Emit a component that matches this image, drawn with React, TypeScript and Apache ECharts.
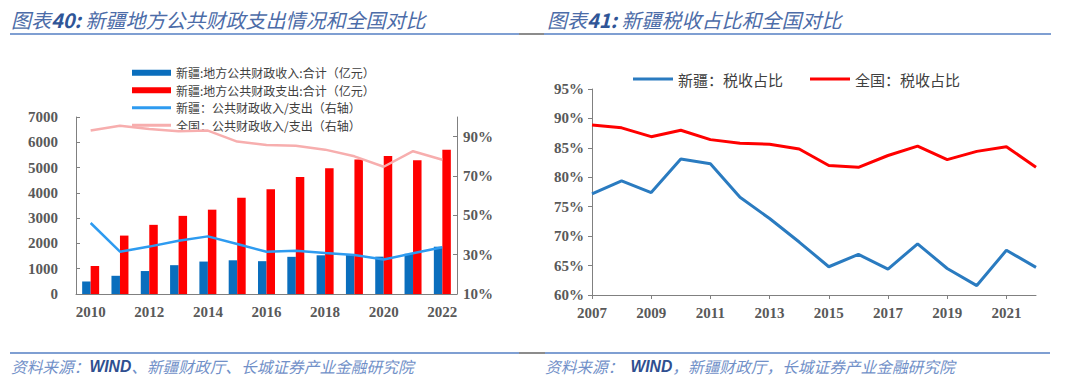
import React, { useEffect, useRef } from 'react';
import * as echarts from 'echarts';

// ---- Chart 40: 新疆地方公共财政支出情况和全国对比 ----
const yearsA = ['2010', '2011', '2012', '2013', '2014', '2015', '2016', '2017', '2018', '2019', '2020', '2021', '2022'];
const xjRevenue = [495, 720, 908, 1140, 1283, 1333, 1298, 1470, 1531, 1577, 1477, 1590, 1870];
const xjExpenditure = [1108, 2310, 2735, 3090, 3335, 3805, 4145, 4630, 4975, 5320, 5455, 5285, 5700];
const xjRatio = [46.1, 31.5, 34.1, 37.1, 39.3, 35.4, 31.5, 32.0, 30.8, 29.8, 27.5, 30.7, 33.8];
const cnRatio = [93.1, 95.6, 93.9, 92.7, 93.1, 87.5, 85.8, 85.4, 83.4, 80.0, 74.7, 82.6, 78.3];

// ---- Chart 41: 新疆税收占比和全国对比 ----
const yearsB = ['2007', '2008', '2009', '2010', '2011', '2012', '2013', '2014', '2015', '2016', '2017', '2018', '2019', '2020', '2021', '2022'];
const xjTaxShare = [77.2, 79.4, 77.4, 83.1, 82.3, 76.6, 73.0, 69.0, 64.8, 66.9, 64.4, 68.7, 64.5, 61.6, 67.6, 64.7];
const cnTaxShare = [88.9, 88.4, 86.9, 88.0, 86.4, 85.8, 85.6, 84.8, 82.0, 81.7, 83.7, 85.3, 83.0, 84.4, 85.2, 81.7];

const L1 = '新疆:地方公共财政收入:合计（亿元）';
const L2 = '新疆:地方公共财政支出:合计（亿元）';
const L3 = '新疆：公共财政收入/支出（右轴）';
const L4 = '全国：公共财政收入/支出（右轴）';
const R1 = '新疆：税收占比';
const R2 = '全国：税收占比';

const CJK = '"Noto Sans CJK SC", sans-serif';
const SERIF = '"Liberation Serif", "Times New Roman", serif';
const LINE_ICON = 'path://M0,0H40V3H0Z';

const axisLabelBase = {
  fontFamily: SERIF,
  fontSize: 15,
  fontWeight: 'bold' as const,
  color: '#595959',
};

export default function App() {
  const ref = useRef<HTMLDivElement>(null);
  useEffect(() => {
    if (!ref.current) return;
    const chart = echarts.init(ref.current, undefined, { renderer: 'svg' });
    const lineBlue = '#7F9FD2';
    const lineGray = '#8C8C8C';
    const titleRich = {
      a: { fontFamily: CJK, fontSize: 20, fontStyle: 'italic', fill: '#4C6CA8' },
      b: { fontFamily: CJK, fontSize: 20, fontStyle: 'italic', fontWeight: 'bold', fill: '#2F5597' },
    };
    const footRich = {
      a: { fontFamily: CJK, fontSize: 15.7, fontStyle: 'italic', fill: '#7190C8' },
      b: { fontFamily: '"Liberation Sans", Arial, sans-serif', fontSize: 15.7, fontStyle: 'italic', fontWeight: 'bold', fill: '#2F4F90' },
    };
    const option: any = {
      animation: false,
      backgroundColor: '#ffffff',
      grid: [
        { left: 76, top: 117, width: 381, height: 177 },
        { left: 592, top: 89, width: 444, height: 206 },
      ],
      legend: [
        {
          data: [
            { name: L1, icon: 'rect' },
            { name: L2, icon: 'rect' },
            { name: L3, icon: LINE_ICON },
            { name: L4, icon: LINE_ICON },
          ],
          orient: 'vertical',
          left: 132,
          top: 64,
          itemWidth: 39,
          itemHeight: 6,
          itemGap: 0,
          padding: 0,
          textStyle: { fontFamily: CJK, fontSize: 12, lineHeight: 17.5, color: '#404040' },
        },
        {
          data: [
            { name: R1, icon: LINE_ICON },
            { name: R2, icon: LINE_ICON },
          ],
          left: 633,
          top: 71,
          itemWidth: 40,
          itemHeight: 6,
          itemGap: 27,
          padding: 0,
          textStyle: { fontFamily: CJK, fontSize: 15, lineHeight: 16, color: '#404040' },
        },
      ],
      xAxis: [
        {
          gridIndex: 0,
          type: 'category',
          data: yearsA,
          boundaryGap: true,
          axisLine: { lineStyle: { color: '#808080', width: 1 } },
          axisTick: { interval: 1, length: 4, lineStyle: { color: '#808080' } },
          axisLabel: { ...axisLabelBase, interval: 1, margin: 10 },
        },
        {
          gridIndex: 1,
          type: 'category',
          data: yearsB,
          boundaryGap: false,
          axisLine: { lineStyle: { color: '#808080', width: 1 } },
          axisTick: { interval: 1, length: 4, lineStyle: { color: '#808080' } },
          axisLabel: { ...axisLabelBase, interval: 1, margin: 10 },
        },
      ],
      yAxis: [
        {
          gridIndex: 0,
          type: 'value',
          min: 0,
          max: 7000,
          interval: 1000,
          splitLine: { show: false },
          axisLine: { show: true, lineStyle: { color: '#808080' } },
          axisTick: { show: true, inside: true, length: 4, lineStyle: { color: '#808080' } },
          axisLabel: { ...axisLabelBase, margin: 18, formatter: (v: number) => String(v) },
        },
        {
          gridIndex: 0,
          type: 'value',
          position: 'right',
          min: 10,
          max: 100,
          interval: 20,
          splitLine: { show: false },
          axisLine: { show: true, lineStyle: { color: '#808080' } },
          axisTick: { show: true, inside: true, length: 4, lineStyle: { color: '#808080' } },
          axisLabel: { ...axisLabelBase, margin: 6, formatter: '{value}%', showMaxLabel: false },
        },
        {
          gridIndex: 1,
          type: 'value',
          min: 60,
          max: 95,
          interval: 5,
          splitLine: { show: false },
          axisLine: { show: true, lineStyle: { color: '#808080' } },
          axisTick: { show: true, inside: false, length: 4, lineStyle: { color: '#808080' } },
          axisLabel: { ...axisLabelBase, margin: 8, formatter: '{value}%' },
        },
      ],
      series: [
        {
          name: L1,
          type: 'bar',
          xAxisIndex: 0,
          yAxisIndex: 0,
          data: xjRevenue,
          barWidth: 8.5,
          barGap: '0%',
          itemStyle: { color: '#0A6EBD' },
        },
        {
          name: L2,
          type: 'bar',
          xAxisIndex: 0,
          yAxisIndex: 0,
          data: xjExpenditure,
          barWidth: 8.5,
          barGap: '0%',
          itemStyle: { color: '#FF0000' },
        },
        {
          name: L3,
          type: 'line',
          xAxisIndex: 0,
          yAxisIndex: 1,
          data: xjRatio,
          symbol: 'none',
          lineStyle: { color: '#2E9BF0', width: 2.5 },
          itemStyle: { color: '#2E9BF0' },
          z: 5,
        },
        {
          name: L4,
          type: 'line',
          xAxisIndex: 0,
          yAxisIndex: 1,
          data: cnRatio,
          symbol: 'none',
          lineStyle: { color: '#F7AEAE', width: 2.5 },
          itemStyle: { color: '#F7AEAE' },
          z: 5,
        },
        {
          name: R1,
          type: 'line',
          xAxisIndex: 1,
          yAxisIndex: 2,
          data: xjTaxShare,
          symbol: 'none',
          lineStyle: { color: '#2A7BC0', width: 3 },
          itemStyle: { color: '#2A7BC0' },
        },
        {
          name: R2,
          type: 'line',
          xAxisIndex: 1,
          yAxisIndex: 2,
          data: cnTaxShare,
          symbol: 'none',
          lineStyle: { color: '#FF0000', width: 3 },
          itemStyle: { color: '#FF0000' },
        },
      ],
      graphic: [
        {
          type: 'text',
          x: 11,
          y: 19,
          style: {
            text: '{a|图表}{b|40:}{a| 新疆地方公共财政支出情况和全国对比}',
            verticalAlign: 'middle',
            rich: titleRich,
          },
        },
        {
          type: 'text',
          x: 547,
          y: 19,
          style: {
            text: '{a|图表}{b|41:}{a| 新疆税收占比和全国对比}',
            verticalAlign: 'middle',
            rich: titleRich,
          },
        },
        { type: 'line', shape: { x1: 10, y1: 34, x2: 519, y2: 34 }, style: { stroke: lineBlue, lineWidth: 2 } },
        { type: 'line', shape: { x1: 519, y1: 34, x2: 544, y2: 34 }, style: { stroke: lineGray, lineWidth: 2 } },
        { type: 'line', shape: { x1: 544, y1: 34, x2: 1051, y2: 34 }, style: { stroke: lineBlue, lineWidth: 2 } },
        { type: 'line', shape: { x1: 10, y1: 353, x2: 519, y2: 353 }, style: { stroke: lineBlue, lineWidth: 2 } },
        { type: 'line', shape: { x1: 519, y1: 353, x2: 545, y2: 353 }, style: { stroke: lineGray, lineWidth: 2 } },
        { type: 'line', shape: { x1: 545, y1: 353, x2: 1050, y2: 353 }, style: { stroke: lineBlue, lineWidth: 2 } },
        {
          type: 'text',
          x: 11,
          y: 366,
          style: {
            text: '{a|资料来源：}{b|WIND}{a|、新疆财政厅、长城证券产业金融研究院}',
            verticalAlign: 'middle',
            rich: footRich,
          },
        },
        {
          type: 'text',
          x: 545,
          y: 366,
          style: {
            text: '{a|资料来源：  }{b|WIND}{a|，新疆财政厅，长城证券产业金融研究院}',
            verticalAlign: 'middle',
            rich: footRich,
          },
        },
      ],
    };
    chart.setOption(option);
    return () => {
      chart.dispose();
    };
  }, []);
  return (
    <div
      ref={ref}
      style={{ position: 'absolute', left: 0, top: 0, width: 1080, height: 388 }}
    />
  );
}
